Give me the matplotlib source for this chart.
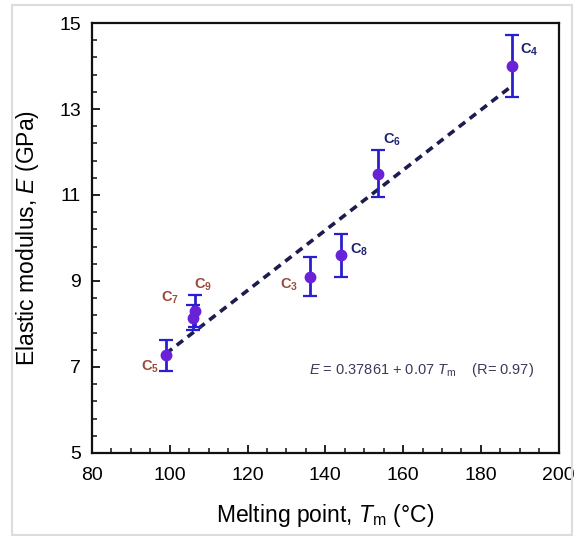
import matplotlib
matplotlib.use('Agg')
import matplotlib.pyplot as plt
from matplotlib.ticker import MultipleLocator
from matplotlib.patches import Rectangle

plt.rcParams['font.family'] = ['Liberation Sans', 'DejaVu Sans']
plt.rcParams['mathtext.fontset'] = 'custom'
plt.rcParams['mathtext.rm'] = 'Liberation Sans'
plt.rcParams['mathtext.it'] = 'Liberation Sans:italic'

# melting point (C) vs elastic modulus (GPa) of the acids
names = ['5', '7', '9', '3', '8', '6', '4']
tm = [99, 106, 106.5, 136, 144, 153.5, 188]
modulus = [7.27, 8.15, 8.3, 9.1, 9.6, 11.5, 14.0]
err = [0.36, 0.3, 0.37, 0.45, 0.5, 0.55, 0.72]

# linear fit E = 0.37861 + 0.07 Tm, drawn over the data range
fit_tm = [99, 188]
fit_e = [7.31, 13.54]

# label offsets (points) from each marker
offsets = [(-11.5, -8), (-16.5, 14), (6, 19), (-15, -6), (13, 4), (10, 24), (12, 11.5)]

fig = plt.figure(figsize=(5.82, 5.39), dpi=100)
ax = fig.add_axes([0.158, 0.1596, 0.802, 0.7977])

ax.plot(fit_tm, fit_e, linestyle=(0, (2.2, 1.6)), color='#1c1c4e', linewidth=2.6, zorder=2)
ax.errorbar(tm, modulus, yerr=err, fmt='o', color='#6a22d8', markersize=7.5,
            ecolor='#2a1fd0', elinewidth=2, capsize=5, capthick=1.6, zorder=3)

for n, x, y, off in zip(names, tm, modulus, offsets):
    col = '#1c2470' if int(n) % 2 == 0 else '#9a4a3a'
    ax.annotate(r'$\mathregular{C_{%s}}$' % n, (x, y), xytext=off, textcoords='offset points',
                ha='center', va='center', fontsize=10.5, fontweight='bold', color=col)

ax.text(0.465, 0.192, r'$\mathit{E}$ = 0.37861 + 0.07 $\mathit{T}_{\mathregular{m}}$    (R= 0.97)',
        transform=ax.transAxes, fontsize=10.5, color='#3a3a5a', ha='left', va='center')

ax.set_xlim(80, 200)
ax.set_ylim(5, 15)
ax.xaxis.set_major_locator(MultipleLocator(20))
ax.xaxis.set_minor_locator(MultipleLocator(5))
ax.yaxis.set_major_locator(MultipleLocator(2, offset=1))
ax.yaxis.set_minor_locator(MultipleLocator(0.4, offset=0.2))
ax.tick_params(which='both', direction='in', top=False, right=False, labelsize=14, color='#222222')
ax.tick_params(which='major', length=6, width=1.4)
ax.tick_params(axis='x', which='major', pad=10)
ax.tick_params(axis='y', which='major', pad=8)
ax.tick_params(which='minor', length=3.5, width=1.2)
for s in ax.spines.values():
    s.set_linewidth(1.6)
    s.set_color('#111111')

ax.set_xlabel(r'Melting point, $\mathit{T}_{\mathregular{m}}$ (°C)', fontsize=16.5, labelpad=13)
ax.set_ylabel(r'Elastic modulus, $\mathit{E}$ (GPa)', fontsize=16.5, labelpad=13)

# faint outer frame around the figure
fig.patches.append(Rectangle((12 / 582, 4 / 539), 560 / 582, 530 / 539, transform=fig.transFigure,
                             fill=False, edgecolor='#dcdcdc', linewidth=1.5))

fig.savefig('out.png', dpi=100)
